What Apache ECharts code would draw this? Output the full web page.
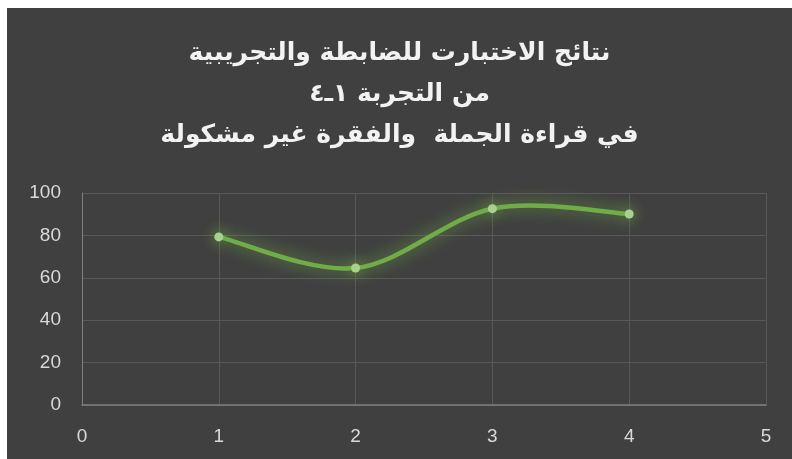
<!DOCTYPE html>
<html><head><meta charset="utf-8">
<script src="https://cdn.jsdelivr.net/npm/echarts@6/dist/echarts.min.js"></script>
<style>
html,body{margin:0;padding:0;background:#fff;width:792px;height:459px;overflow:hidden;}
#c{position:absolute;left:7px;top:8px;width:785px;height:451px;}
</style></head>
<body><div id="c"></div>
<script>
const titleLines = ['نتائج الاختبارت للضابطة والتجريبية','من التجربة ١ـ٤','في قراءة الجملة  والفقرة غير مشكولة'];
const xValues = [1, 2, 3, 4];
const yValues = [79.3, 64.6, 92.6, 90.1];
const xTicks = [0, 1, 2, 3, 4, 5];
const yTicks = [0, 20, 40, 60, 80, 100];

const pts = xValues.map((x, i) => [x, yValues[i]]);

function renderCurve(params, api) {
  if (params.dataIndex !== 0) return null;
  const P = pts.map(p => api.coord(p));
  const n = P.length;
  const t = 1 / 6;
  let d = 'M' + P[0][0] + ',' + P[0][1];
  for (let i = 0; i < n - 1; i++) {
    const p0 = P[Math.max(i - 1, 0)], p1 = P[i], p2 = P[i + 1], p3 = P[Math.min(i + 2, n - 1)];
    const c1 = [p1[0] + (p2[0] - p0[0]) * t, p1[1] + (p2[1] - p0[1]) * t];
    const c2 = [p2[0] - (p3[0] - p1[0]) * t, p2[1] - (p3[1] - p1[1]) * t];
    d += ' C' + c1[0] + ',' + c1[1] + ' ' + c2[0] + ',' + c2[1] + ' ' + p2[0] + ',' + p2[1];
  }
  return {
    type: 'path',
    shape: { pathData: d },
    style: { fill: null, stroke: '#70ad47', lineWidth: 4.5, lineCap: 'round', shadowColor: 'rgba(112,173,71,0.95)', shadowBlur: 16 }
  };
}

const chart = echarts.init(document.getElementById('c'));
chart.setOption({
  backgroundColor: '#404040',
  animation: false,
  title: {
    text: titleLines.join('\n'),
    left: 'center',
    top: 20,
    textStyle: { color: '#f2f2f2', fontSize: 25, fontWeight: 'bold', fontFamily: 'DejaVu Sans, Arial, sans-serif', lineHeight: 41 }
  },
  grid: { left: 75, right: 26, top: 185, bottom: 54 },
  xAxis: {
    type: 'value', min: xTicks[0], max: xTicks[xTicks.length-1], interval: 1,
    axisLine: { show: true, lineStyle: { color: '#7f7f7f', width: 1.5 } },
    axisTick: { show: false },
    splitLine: { show: true, lineStyle: { color: '#595959', width: 1 } },
    axisLabel: { color: '#d9d9d9', fontSize: 19, margin: 22, fontFamily: 'Liberation Sans, sans-serif' }
  },
  yAxis: {
    type: 'value', min: yTicks[0], max: yTicks[yTicks.length-1], interval: 20,
    axisLine: { show: true, lineStyle: { color: '#7f7f7f', width: 1 } },
    axisTick: { show: false },
    splitLine: { show: true, lineStyle: { color: '#595959', width: 1 } },
    axisLabel: { color: '#d9d9d9', fontSize: 19, margin: 21, fontFamily: 'Liberation Sans, sans-serif' }
  },
  series: [{
    type: 'custom',
    renderItem: renderCurve,
    data: pts,
    z: 2
  }, {
    type: 'line',
    data: pts,
    symbol: 'circle',
    symbolSize: 9,
    lineStyle: { width: 0, opacity: 0 },
    itemStyle: { color: '#a9d18e', shadowColor: 'rgba(112,173,71,1)', shadowBlur: 14 },
    z: 3
  }]
});
</script></body></html>
